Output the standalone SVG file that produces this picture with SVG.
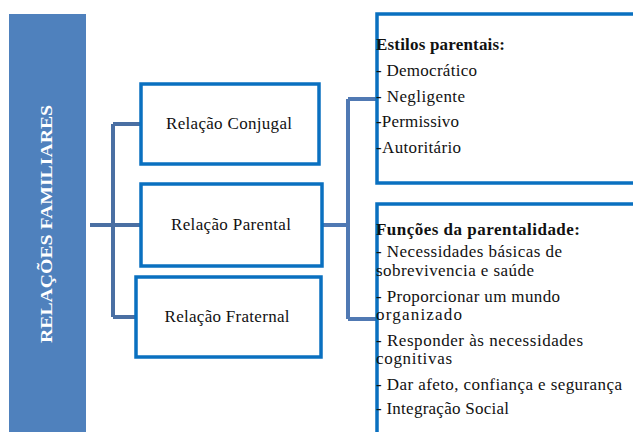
<svg xmlns="http://www.w3.org/2000/svg" width="633" height="432" viewBox="0 0 633 432">
<style>
.box{fill:#fff;stroke:#0a70c0;stroke-width:3.5}
.con{fill:none;stroke:#4a6fa3;stroke-width:4}
text{font-family:'Liberation Serif','Times New Roman',serif;font-size:17px;fill:#111}
.b{font-weight:bold}
.c{text-anchor:middle}
</style>
<rect width="633" height="432" fill="#fff"/>
<g id="root">
<rect x="9" y="14" width="77" height="420" fill="#4f81bd"/>
<text class="b c" x="0" y="0" transform="translate(52,224) rotate(-90)" style="fill:#fff;font-size:16px" textLength="238" lengthAdjust="spacingAndGlyphs">RELAÇÕES FAMILIARES</text>
</g>
<g id="connectors">
<path class="con" d="M90,225 H141 M113,124 V317 M113,124 H141 M113,317 H136"/>
<path class="con" style="stroke:#5079b3" d="M322,225 H348 M348,99 V319 M348,99 H376 M348,319 H376"/>
</g>
<g id="conjugal">
<rect class="box" x="141" y="84" width="178" height="80"/>
<text class="c" x="229" y="129" textLength="126" lengthAdjust="spacing">Relação Conjugal</text>
</g>
<g id="parental">
<rect class="box" x="141" y="184" width="181" height="82"/>
<text class="c" x="231" y="230" textLength="120" lengthAdjust="spacing">Relação Parental</text>
</g>
<g id="fraternal">
<rect class="box" x="136" y="277" width="185" height="80"/>
<text class="c" x="227" y="322" textLength="125" lengthAdjust="spacing">Relação Fraternal</text>
</g>
<g id="estilos">
<rect class="box" x="377" y="14" width="270" height="169"/>
<text class="b" x="376" y="50" textLength="129" lengthAdjust="spacing">Estilos parentais:</text>
<text x="376" y="76" textLength="101" lengthAdjust="spacing">- Democrático</text>
<text x="376" y="102" textLength="89" lengthAdjust="spacing">- Negligente</text>
<text x="376" y="127" textLength="83" lengthAdjust="spacing">-Permissivo</text>
<text x="376" y="153" textLength="85" lengthAdjust="spacing">-Autoritário</text>
</g>
<g id="funcoes">
<rect class="box" x="377" y="204" width="270" height="240"/>
<text class="b" x="376" y="235" textLength="204" lengthAdjust="spacing">Funções da parentalidade:</text>
<text x="376" y="257" textLength="186" lengthAdjust="spacing">- Necessidades básicas de</text>
<text x="376" y="276" textLength="158" lengthAdjust="spacing">sobrevivencia e saúde</text>
<text x="376" y="302" textLength="184" lengthAdjust="spacing">- Proporcionar um mundo</text>
<text x="376" y="320" textLength="86" lengthAdjust="spacing">organizado</text>
<text x="376" y="346" textLength="207" lengthAdjust="spacing">- Responder às necessidades</text>
<text x="376" y="364" textLength="76" lengthAdjust="spacing">cognitivas</text>
<text x="376" y="390" textLength="246" lengthAdjust="spacing">- Dar afeto, confiança e segurança</text>
<text x="376" y="414" textLength="133" lengthAdjust="spacing">- Integração Social</text>
</g>
</svg>
